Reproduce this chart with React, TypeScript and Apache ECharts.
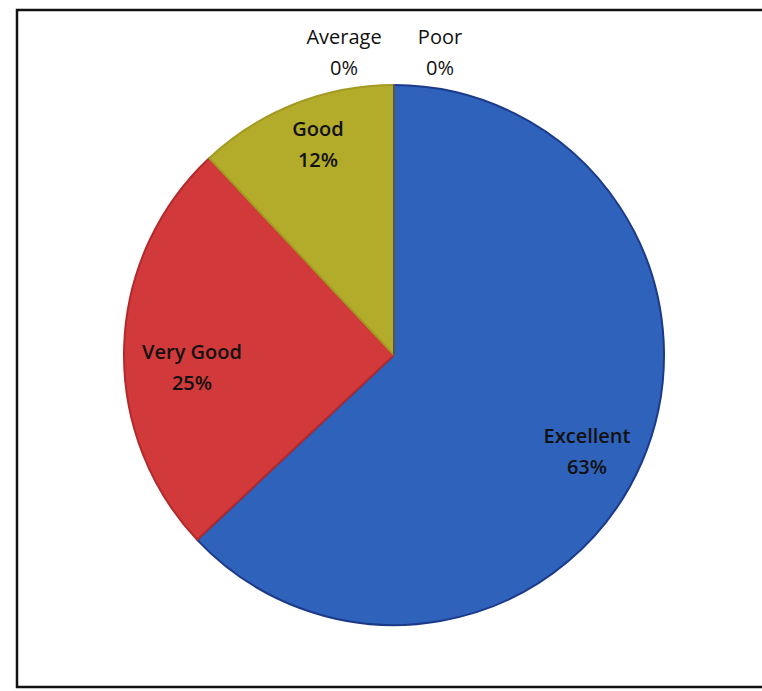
import React, { useEffect, useRef } from "react";
import * as echarts from "echarts";

const categories = ["Excellent", "Very Good", "Good", "Average", "Poor"];
const values = [63, 25, 12, 0, 0];
const percentLabels = ["63%", "25%", "12%", "0%", "0%"];

const fillColors = ["#2f62bb", "#d2393a", "#b3ab2a", "#8c8c8c", "#6f6f6f"];
const edgeColors = ["#1c3a8a", "#b22a2c", "#a29a22", "#777777", "#555555"];

// label anchor positions (px, in chart coordinates)
const labelPos: [number, number][] = [
  [587, 451],
  [192, 367],
  [318, 144],
  [344, 52],
  [440, 52],
];

export default function App() {
  const ref = useRef<HTMLDivElement>(null);
  useEffect(() => {
    if (!ref.current) return;
    const chart = echarts.init(ref.current, null, { renderer: "svg" });
    const data = categories.map((name, i) => ({
      name,
      value: values[i],
      itemStyle: { color: fillColors[i], borderColor: edgeColors[i], borderWidth: 2 },
      label: {
        fontWeight: i < 3 ? 600 : 400,
      },
    }));
    chart.setOption({
      animation: false,
      backgroundColor: "#ffffff",
      graphic: [
        {
          type: "rect",
          shape: { x: 17, y: 10, width: 760, height: 677 },
          style: { fill: "none", stroke: "#111111", lineWidth: 2.5 },
          silent: true,
        },
      ],
      series: [
        {
          type: "pie",
          center: [394, 355],
          radius: [0, 270],
          startAngle: 90,
          clockwise: true,
          avoidLabelOverlap: false,
          data,
          label: {
            show: true,
            position: "inside",
            formatter: (p: any) => `${p.name}\n${percentLabels[p.dataIndex]}`,
            fontFamily: "Open Sans",
            fontSize: 20,
            lineHeight: 31,
            color: "#111111",
            align: "center",
          },
          labelLine: { show: false },
          labelLayout: (p: any) => ({
            x: labelPos[p.dataIndex][0],
            y: labelPos[p.dataIndex][1],
            align: "center",
            verticalAlign: "middle",
          }),
          emphasis: { disabled: true },
        },
      ],
    });
    return () => chart.dispose();
  }, []);
  return (
    <div
      ref={ref}
      style={{ position: "fixed", left: 0, top: 0, width: 762, height: 691, background: "#fff" }}
    />
  );
}
